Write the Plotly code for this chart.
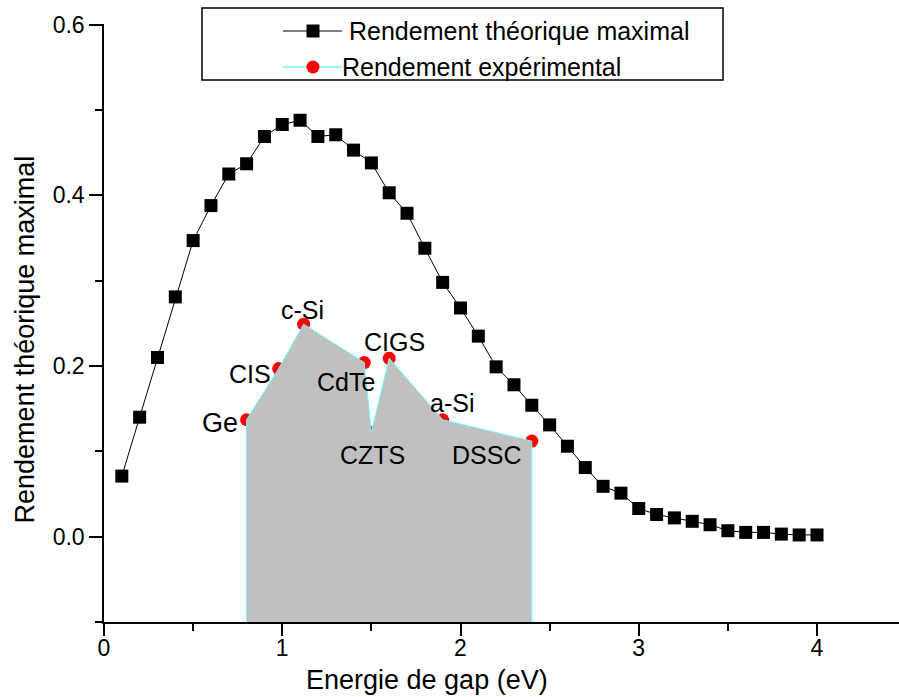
import plotly.graph_objects as go

# ---- data ----
gap_theo = [round(0.1 * i, 1) for i in range(1, 41)]
eff_theo = [0.071, 0.140, 0.210, 0.281, 0.347, 0.388, 0.425, 0.437, 0.469, 0.483,
            0.488, 0.469, 0.471, 0.453, 0.438, 0.403, 0.379, 0.338, 0.298, 0.268,
            0.235, 0.199, 0.178, 0.154, 0.131, 0.106, 0.081, 0.059, 0.051, 0.033,
            0.026, 0.022, 0.018, 0.014, 0.007, 0.005, 0.005, 0.003, 0.002, 0.002]

materials = ["Ge", "CIS", "c-Si", "CdTe", "CZTS", "CIGS", "a-Si", "DSSC"]
gap_exp = [0.8, 0.98, 1.12, 1.46, 1.5, 1.6, 1.9, 2.4]
eff_exp = [0.137, 0.197, 0.249, 0.204, 0.122, 0.209, 0.137, 0.112]

y_ticks = [0.0, 0.2, 0.4, 0.6]
y_ticktext = ["0.0", "0.2", "0.4", "0.6"]
x_ticks = [0, 1, 2, 3, 4]

legend_names = ["Rendement théorique maximal", "Rendement expérimental"]
x_title = "Energie de gap (eV)"
y_title = "Rendement théorique maximal"

# label offsets in pixels (dx, dy; dy positive = up) relative to each point
label_offsets = [(-27, -3), (-29, -5), (-1, 14), (-18, -19), (1, -22), (5, 16), (9, 17), (-45, -14)]
label_sizes = [27, 25, 25, 25, 25, 25, 25, 25]

FONT = "Arial, 'Liberation Sans', sans-serif"
Y_BOTTOM = -0.1

fig = go.Figure()

fig.add_trace(go.Scatter(
    x=gap_theo, y=eff_theo, mode="lines+markers",
    line=dict(color="black", width=1),
    marker=dict(symbol="square", size=13, color="black"),
    showlegend=False,
))

fig.add_trace(go.Scatter(
    x=gap_exp, y=eff_exp, mode="markers",
    marker=dict(symbol="circle", size=13, color="red"),
    showlegend=False,
))

poly_x = [gap_exp[0]] + gap_exp + [gap_exp[-1]]
poly_y = [Y_BOTTOM] + eff_exp + [Y_BOTTOM]
fig.add_trace(go.Scatter(
    x=poly_x, y=poly_y, mode="lines", fill="toself",
    fillcolor="#c0c0c0", line=dict(color="#70f8f8", width=1),
    showlegend=False, hoverinfo="skip",
))

annotations = []
for name, gx, ey, (dx, dy), fs in zip(materials, gap_exp, eff_exp, label_offsets, label_sizes):
    annotations.append(dict(
        x=gx, y=ey, xref="x", yref="y", text=name, showarrow=False,
        xshift=dx, yshift=dy, font=dict(family=FONT, size=fs, color="black"),
        xanchor="center", yanchor="middle",
    ))

# axis titles
annotations.append(dict(x=0.406, y=-0.097, xref="paper", yref="paper", text=x_title,
                        showarrow=False, xanchor="center", yanchor="middle",
                        font=dict(family=FONT, size=27, color="black")))
annotations.append(dict(x=-0.099, y=0.473, xref="paper", yref="paper", text=y_title,
                        showarrow=False, xanchor="center", yanchor="middle", textangle=-90,
                        font=dict(family=FONT, size=27, color="black")))

# manual legend (paper coordinates)
W, H, L, T = 899, 697, 104, 24
PW, PH = W - L, 622 - T
def px(v):
    return (v - L) / PW
def py(v):
    return (622 - v) / PH

shapes = [
    dict(type="rect", xref="paper", yref="paper", x0=px(202), x1=px(723), y0=py(80), y1=py(8),
         line=dict(color="black", width=1.5), fillcolor="rgba(0,0,0,0)", layer="above"),
    dict(type="line", xref="paper", yref="paper", x0=px(283), x1=px(342), y0=py(31), y1=py(31),
         line=dict(color="black", width=1)),
    dict(type="rect", xref="paper", yref="paper", x0=px(313 - 6.5), x1=px(313 + 6.5),
         y0=py(31 + 6.5), y1=py(31 - 6.5), line=dict(width=0), fillcolor="black"),
    dict(type="line", xref="paper", yref="paper", x0=px(283), x1=px(342), y0=py(67), y1=py(67),
         line=dict(color="#70f8f8", width=1.5)),
    dict(type="circle", xref="paper", yref="paper", x0=px(313 - 6.5), x1=px(313 + 6.5),
         y0=py(67 + 6.5), y1=py(67 - 6.5), line=dict(width=0), fillcolor="red"),
]
annotations.append(dict(x=px(347), y=py(31), xref="paper", yref="paper", text=legend_names[0],
                        showarrow=False, xanchor="left", yanchor="middle",
                        font=dict(family=FONT, size=25, color="black")))
annotations.append(dict(x=px(340), y=py(67), xref="paper", yref="paper", text=legend_names[1],
                        showarrow=False, xanchor="left", yanchor="middle",
                        font=dict(family=FONT, size=25, color="black")))

fig.update_layout(
    width=W, height=H,
    margin=dict(l=L, r=0, t=T, b=H - 622),
    paper_bgcolor="white", plot_bgcolor="white",
    showlegend=False,
    annotations=annotations, shapes=shapes,
    font=dict(family=FONT, color="black"),
)

fig.update_xaxes(
    range=[0, 4.46], tickvals=x_ticks, ticks="outside", ticklen=12, tickwidth=1.5,
    ticklabelstandoff=-7,
    tickcolor="black", showline=True, linecolor="black", linewidth=1.5,
    showgrid=False, zeroline=False, tickfont=dict(family=FONT, size=23, color="black"),
    minor=dict(dtick=0.5, ticks="outside", ticklen=7, tickwidth=1.5, tickcolor="black", showgrid=False),
)
fig.update_yaxes(
    range=[Y_BOTTOM, 0.6008], tickvals=y_ticks, ticktext=y_ticktext, ticks="outside", ticklen=13,
    tickwidth=1.5, tickcolor="black", showline=True, linecolor="black", linewidth=1.5,
    showgrid=False, zeroline=False, tickfont=dict(family=FONT, size=23, color="black"),
    minor=dict(dtick=0.1, tick0=0, ticks="outside", ticklen=7, tickwidth=1.5, tickcolor="black", showgrid=False),
)

fig.write_html("out.html")
